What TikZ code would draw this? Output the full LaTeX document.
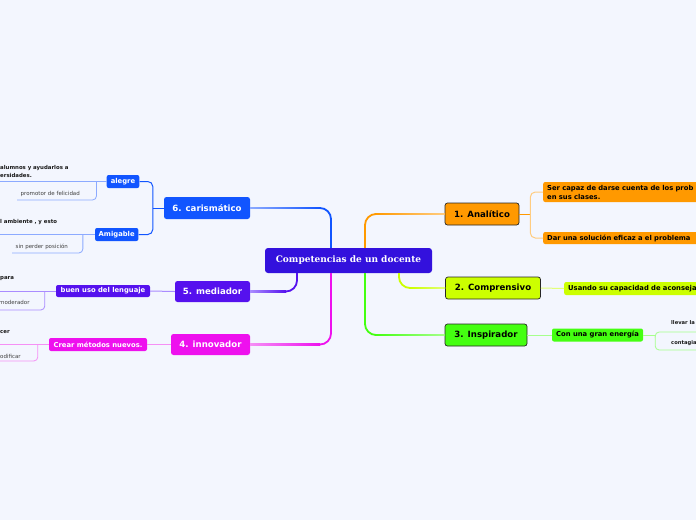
\documentclass[tikz,border=0pt]{standalone}
\usepackage{fontspec}
\setmainfont{DejaVu Sans}
\newfontfamily\censerif{DejaVu Serif}
\definecolor{bgc}{HTML}{F3F6FE}
\definecolor{cenc}{HTML}{3311DD}
\definecolor{blc}{HTML}{1155FF}
\definecolor{bll}{HTML}{8CAAFF}
\definecolor{puc}{HTML}{5511EE}
\definecolor{pul}{HTML}{AA8CFF}
\definecolor{mac}{HTML}{EE11EE}
\definecolor{mal}{HTML}{F590F5}
\definecolor{orc}{HTML}{FF9900}
\definecolor{orl}{HTML}{FFCC80}
\definecolor{ygc}{HTML}{CCFF00}
\definecolor{ygl}{HTML}{E2FF7A}
\definecolor{grc}{HTML}{44FF11}
\definecolor{grl}{HTML}{A6FF8C}
\begin{document}
\begin{tikzpicture}[x=1pt,y=-1pt,
  branch/.style={rounded corners=2.5pt, inner sep=0pt, font=\bfseries\fontsize{8.6}{10}\selectfont, minimum height=22pt},
  lbranch/.style={branch, text=white},
  rbranch/.style={branch, draw=black!85, line width=0.7pt, text=black},
  subbox/.style={rounded corners=2pt, inner sep=0pt, font=\bfseries\fontsize{6.8}{9}\selectfont, minimum height=13pt},
  widebox/.style={subbox, anchor=west, text width=200pt, align=left, inner xsep=4pt},
  leafb/.style={inner xsep=2pt, font=\bfseries\fontsize{5.4}{8}\selectfont, text=black!90, align=left, anchor=south west},
  leafr/.style={inner xsep=3.5pt, font=\fontsize{5.5}{7}\selectfont, text=black!75, anchor=south west},
  mainline/.style={line width=1.8pt, rounded corners=11pt},
  thinline/.style={line width=1pt, rounded corners=5pt},
  leafline/.style={line width=0.8pt, rounded corners=4pt},
]
\useasboundingbox[fill=bgc] (0,0) rectangle (696,520);
\clip (0,0) rectangle (696,520);

% central
\node[fill=cenc, rounded corners=3pt, minimum width=167pt, minimum height=25pt, inner sep=0pt, text=white,
  font=\censerif\bfseries\fontsize{9}{11}\selectfont] (c) at (348.5,260.5) {Competencias de un docente};

% branches
\node[rbranch, fill=orc, minimum width=74pt] (an) at (482,214) {1. Analítico};
\node[rbranch, fill=ygc, minimum width=95pt] (co) at (493,288) {2. Comprensivo};
\node[rbranch, fill=grc, minimum width=82pt] (ins) at (486,335) {3. Inspirador};
\node[lbranch, fill=blc, minimum width=86pt] (car) at (207,208) {6. carismático};
\node[lbranch, fill=puc, minimum width=75pt, minimum height=21pt] (med) at (212.5,291.5) {5. mediador};
\node[lbranch, fill=mac, minimum width=79pt, minimum height=21pt] (inn) at (210.5,344.5) {4. innovador};

% main connectors
\draw[mainline, blc] ([xshift=-17.5pt]c.north) |- (car.east);
\shade[left color=bll, right color=blc] ([yshift=-0.9pt]car.east) rectangle ([yshift=0.9pt,xshift=70pt]car.east);
\draw[mainline, mac] ([xshift=-17.5pt]c.south) |- (inn.east);
\shade[left color=mal, right color=mac] ([yshift=-0.9pt]inn.east) rectangle ([yshift=0.9pt,xshift=70pt]inn.east);
\draw[mainline, puc] ([xshift=-51.5pt]c.south) |- (med.east);
\shade[left color=pul, right color=puc] ([yshift=-0.9pt]med.east) rectangle ([yshift=0.9pt,xshift=36pt]med.east);
\draw[mainline, orc] ([xshift=16.5pt]c.north) |- (an.west);
\shade[left color=orc, right color=orl] ([yshift=-0.9pt,xshift=-70pt]an.west) rectangle ([yshift=0.9pt]an.west);
\draw[mainline, grc] ([xshift=16.5pt]c.south) |- (ins.west);
\shade[left color=grc, right color=grl] ([yshift=-0.9pt,xshift=-70pt]ins.west) rectangle ([yshift=0.9pt]ins.west);
\draw[mainline, ygc] ([xshift=50.5pt]c.south) |- (co.west);
\shade[left color=ygc, right color=ygl] ([yshift=-0.9pt,xshift=-35pt]co.west) rectangle ([yshift=0.9pt]co.west);

% right sub nodes
\node[widebox, fill=orc, minimum height=20pt] (a1) at (543,192) {Ser capaz de darse cuenta de los prob\\en sus clases.};
\node[widebox, fill=orc, minimum height=12pt] (a2) at (543,238) {Dar una solución eficaz a el problema};
\node[widebox, fill=ygc] (cp1) at (564,288.5) {Usando su capacidad de aconseja};
\node[subbox, fill=grc, minimum width=91pt] (ip1) at (597.5,335) {Con una gran energía};
\node[leafb, inner ysep=7pt, inner xsep=2pt, font=\bfseries\fontsize{5.2}{8}\selectfont] (l1) at (669,332) {llevar la};
\node[leafb, inner ysep=4pt, inner xsep=2pt, font=\bfseries\fontsize{5.2}{8}\selectfont] (l2) at (669,350) {contagia};

\coordinate (ab) at ([xshift=11pt]an.east);
\draw[thinline, orc] (an.east) -- (ab);
\draw[thinline, orl] (ab) |- (a1.west);
\draw[thinline, orl] (ab) |- (a2.west);
\draw[thinline, ygl] (co.east) -- (cp1.west);
\draw[thinline, grl] (ins.east) -- (ip1.west);
\coordinate (ipb) at ([xshift=12pt]ip1.east);
\coordinate (rim1) at (l1.south east -| 700,0);
\coordinate (rim2) at (l2.south east -| 700,0);
\draw[leafline, grl] (ip1.east) -- (ipb);
\draw[leafline, grl] (ipb) |- (rim1);
\draw[leafline, grl] (ipb) |- (rim2);

% left sub nodes (carismatico)
\node[subbox, fill=blc, text=white, minimum width=32.6pt] (ale) at (123,181.5) {alegre};
\node[subbox, fill=blc, text=white, minimum width=43.3pt] (ami) at (116.7,234.5) {Amigable};
\coordinate (cb) at ([xshift=-11pt]car.west);
\draw[thinline, blc] (car.west) -- (cb);
\draw[thinline, blc] (cb) |- (ale.east);
\draw[thinline, blc] (cb) |- (ami.east);

\node[leafb, inner ysep=3.5pt] (al1) at (-2,181.5) {alumnos y ayudarlos a\\ersidades.};
\node[leafr, inner ysep=3pt] (al2) at (17,200) {promotor de felicidad};
\coordinate (alb) at ([xshift=-10pt]ale.west);
\draw[leafline, bll] (ale.west) -- (al1.south west);
\draw[leafline, bll] (alb) |- (al2.south west);

\node[leafb, inner ysep=10pt] (am1) at (-2,234.5) {l ambiente , y esto};
\node[leafr, inner ysep=2.8pt] (am2) at (12,253) {sin perder posición};
\coordinate (amb) at ([xshift=-12pt]ami.west);
\draw[leafline, bll] (ami.west) -- (am1.south west);
\draw[leafline, bll] (amb) |- (am2.south west);

% mediador
\node[subbox, fill=puc, text=white, minimum width=94pt, minimum height=12pt] (bu) at (103,291) {buen uso del lenguaje};
\draw[thinline, pul] (med.west) -- (bu.east);
\node[leafb, inner ysep=10pt] (bu1) at (-2,291) {para};
\node[leafr, inner ysep=5pt, inner xsep=2pt] (bu2) at (-3,310) {moderador};
\coordinate (bub) at ([xshift=-11pt]bu.west);
\draw[leafline, pul] (bu.west) -- (bu1.south west);
\draw[leafline, pul] (bub) |- (bu2.south west);

% innovador
\node[subbox, fill=mac, text=white, minimum width=98pt] (cm) at (98,344.5) {Crear métodos nuevos.};
\draw[thinline, mal] (inn.west) -- (cm.east);
\node[leafb, inner ysep=11pt] (cm1) at (-2,344.5) {cer};
\node[leafr, inner ysep=2pt, inner xsep=2pt] (cm2) at (-2,361) {odificar};
\coordinate (cmb) at ([xshift=-11pt]cm.west);
\draw[leafline, mal] (cm.west) -- (cm1.south west);
\draw[leafline, mal] (cmb) |- (cm2.south west);
\end{tikzpicture}
\end{document}
